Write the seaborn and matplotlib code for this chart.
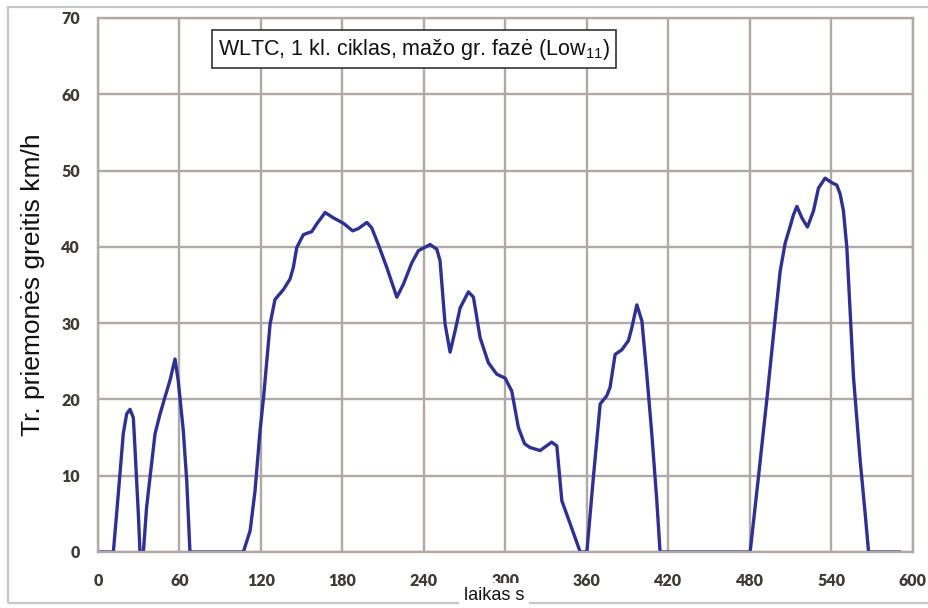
import numpy as np
import pandas as pd
import seaborn as sns
import matplotlib
matplotlib.use("Agg")
import matplotlib.pyplot as plt
from matplotlib.ticker import MultipleLocator
from matplotlib.patches import Rectangle

# --- data ---
time_s = [0, 11.3, 13.7, 16.2, 18.6, 21.1, 23.6, 26.0, 27.2, 29.7, 30.9, 33.4,
          35.8, 38.3, 42.0, 45.7, 49.3, 53.0, 56.7, 59.1, 62.8, 65.3, 67.7,
          107.0, 112.0, 115.6, 119.3, 122.0, 126.7, 130.3, 136.5, 141.4, 143.8,
          146.3, 151.2, 157.4, 161.0, 167.2, 173.3, 180.6, 187.5, 191.7, 197.9,
          201.5, 206.4, 212.6, 220.0, 224.8, 231.0, 235.9, 244.5, 249.4, 251.8,
          255.5, 259.2, 262.9, 266.6, 272.7, 276.4, 281.3, 287.4, 293.6, 299.7,
          304.6, 309.5, 314.0, 318.0, 325.5, 334.0, 337.8, 341.5, 347.6, 355.0,
          359.9, 364.7, 369.7, 374.6, 377.0, 380.7, 385.6, 390.5, 393.0, 396.7,
          400.4, 404.0, 407.7, 411.4, 413.8, 480.1, 486.2, 492.4, 497.3, 502.2,
          505.9, 509.6, 512.0, 514.5, 518.2, 522.3, 526.7, 530.4, 535.3, 540.3,
          543.9, 546.4, 548.8, 551.3, 553.7, 556.2, 561.1, 564.8, 567.3, 590.6]
speed_kmh = [0, 0, 5.0, 10.3, 15.5, 18.1, 18.7, 17.6, 13.7, 5.0, 0, 0,
             5.9, 9.8, 15.5, 18.1, 20.3, 22.5, 25.3, 22.4, 15.9, 9.4, 0,
             0, 2.8, 8.0, 15.9, 20.5, 29.9, 33.1, 34.4, 35.8, 37.3,
             39.9, 41.6, 42.0, 43.0, 44.5, 43.8, 43.1, 42.1, 42.4, 43.2,
             42.5, 40.3, 37.3, 33.4, 35.1, 37.9, 39.5, 40.3, 39.7, 38.2,
             29.9, 26.2, 29.0, 32.0, 34.1, 33.4, 28.1, 24.8, 23.3, 22.8,
             21.1, 16.3, 14.2, 13.7, 13.3, 14.4, 13.9, 6.7, 3.7, 0,
             0, 9.8, 19.4, 20.5, 21.6, 25.9, 26.5, 27.7, 29.4, 32.4,
             30.3, 23.3, 15.5, 6.7, 0, 0, 9.8, 20.0, 28.5, 36.8,
             40.5, 42.7, 44.2, 45.3, 43.8, 42.6, 44.7, 47.7, 49.0, 48.4,
             48.1, 46.9, 44.7, 39.9, 31.6, 22.9, 12.0, 5.0, 0, 0]
x_ticks = [0, 60, 120, 180, 240, 300, 360, 420, 480, 540, 600]
y_ticks = [0, 10, 20, 30, 40, 50, 60, 70]
title_text = "WLTC, 1 kl. ciklas, mažo gr. fazė (Low$\\mathregular{_{11}}$)"
x_label = "laikas s"
y_label = "Tr. priemonės greitis km/h"

df = pd.DataFrame({"t": time_s, "v": speed_kmh})

sns.set_theme(style="white")
plt.rcParams["font.family"] = ["Liberation Sans", "DejaVu Sans"]
plt.rcParams["mathtext.fontset"] = "custom"
plt.rcParams["mathtext.rm"] = "Liberation Sans"

W, H = 929, 608
fig = plt.figure(figsize=(W / 100, H / 100), dpi=100)
ax = fig.add_axes([98 / W, 1 - 552 / H, (913 - 98) / W, (552 - 18) / H])

grid_c = "#b1a9a5"
ax.set_xlim(0, 600)
ax.set_ylim(0, 70)
ax.xaxis.set_major_locator(MultipleLocator(60))
ax.xaxis.set_minor_locator(MultipleLocator(10))
ax.yaxis.set_major_locator(MultipleLocator(10))
ax.yaxis.set_minor_locator(MultipleLocator(2))
ax.grid(True, which="major", color=grid_c, linewidth=1.7)
ax.set_axisbelow(True)
for s in ax.spines.values():
    s.set_color(grid_c)
    s.set_linewidth(1.7)

sns.lineplot(data=df, x="t", y="v", ax=ax, color="#2e3192", linewidth=2.4,
             estimator=None, sort=False, solid_joinstyle="round",
             solid_capstyle="round")

ax.set_xticks(x_ticks)
ax.set_yticks(y_ticks)
tick_c = "#3f3a33"
ax.tick_params(axis="both", which="major", direction="inout", length=8, width=1.4,
               color=grid_c, labelsize=11.5, labelcolor=tick_c, pad=9)
ax.tick_params(axis="both", which="minor", direction="inout", length=8, width=1.4,
               color=grid_c)
for lab in ax.get_xticklabels() + ax.get_yticklabels():
    lab.set_fontfamily(["Lato", "DejaVu Sans"])
    lab.set_fontweight("heavy")
ax.tick_params(axis="x", which="major", pad=11)

ax.set_xlabel("")
ax.set_ylabel("")

# outer frame
fig.patches.append(Rectangle((8 / W, 1 - 603 / H), 1.2, (603 - 7) / H,
                             transform=fig.transFigure, fill=False,
                             edgecolor="#c9c5c4", linewidth=1.6))

fig.text(33 / W, 1 - 285 / H, y_label, rotation=90, ha="center", va="center",
         fontsize=19, color="#111111")
fig.text(494 / W, 1 - 596 / H, x_label, ha="center", va="center", fontsize=13,
         color="#111111",
         bbox=dict(boxstyle="square,pad=0.25", facecolor="white", edgecolor="none"))

fig.text(414 / W, 1 - 49 / H, title_text, ha="center", va="center", fontsize=15.5,
         color="#111111",
         bbox=dict(boxstyle="square,pad=0.28", facecolor="white", edgecolor="#333333",
                   linewidth=1.2))

fig.savefig("out.png", dpi=100)
